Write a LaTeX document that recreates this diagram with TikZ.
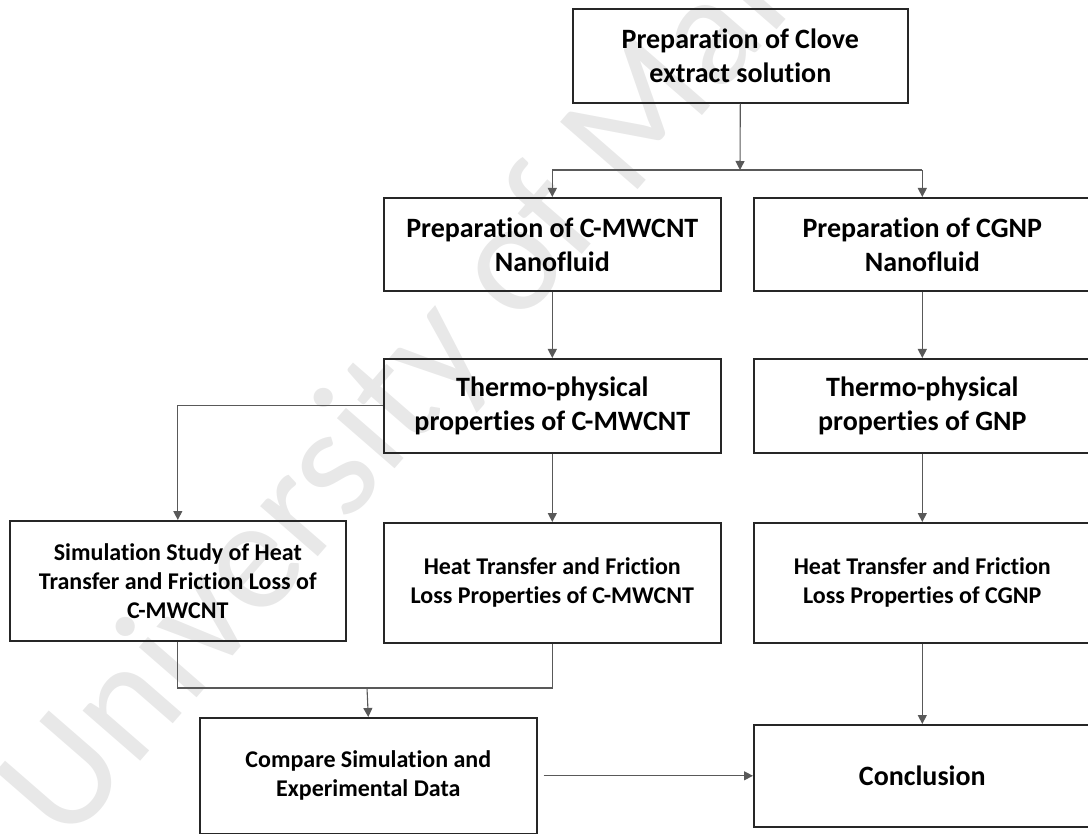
\documentclass[tikz,border=0pt]{standalone}
\usepackage{fontspec}
\setmainfont{Carlito}[Ligatures=NoCommon]
\usetikzlibrary{arrows.meta}
\begin{document}
\begin{tikzpicture}[x=1pt,y=-1pt,
  box/.style={draw=black!85, line width=1.6pt, anchor=north west, inner sep=0pt, align=center, minimum width=337pt, font=\bfseries\fontsize{28}{34}\selectfont},
  sbox/.style={box, font=\bfseries\fontsize{24}{29}\selectfont},
  conn/.style={draw=black!65, line width=1.1pt},
  arr/.style={conn, -{Triangle[length=9pt,width=9pt]}},
  wmark/.style={rotate=49, text=black!9, font=\fontsize{160}{160}\selectfont}
]
\useasboundingbox (0,0) rectangle (1088,834);
\node[wmark] (wm) at (470,318) {University of Malaya};

\node[box, minimum width=335pt, minimum height=94pt] (clove) at (572,8) {Preparation of Clove\\extract solution};
\node[box, minimum height=93pt] (prepM) at (383,197) {Preparation of C-MWCNT\\Nanofluid};
\node[box, minimum height=93pt] (prepG) at (753,197) {Preparation of CGNP\\Nanofluid};
\node[box, minimum height=94pt] (thermM) at (383,358) {Thermo-physical\\properties of C-MWCNT};
\node[box, minimum height=94pt] (thermG) at (753,358) {Thermo-physical\\properties of GNP};
\node[sbox, minimum width=336pt, minimum height=120pt] (sim) at (9,520) {Simulation Study of Heat\\Transfer and Friction Loss of\\C-MWCNT};
\node[sbox, minimum height=120pt] (heatM) at (383,522) {Heat Transfer and Friction\\Loss Properties of C-MWCNT};
\node[sbox, minimum height=120pt] (heatG) at (753,522) {Heat Transfer and Friction\\Loss Properties of CGNP};
\node[sbox, minimum height=116pt] (comp) at (199,717) {Compare Simulation and\\Experimental Data};
\node[box, minimum height=102pt] (concl) at (753,724) {Conclusion};

\coordinate (j1) at (740,170);
\coordinate (jl) at (prepM.north |- j1);
\coordinate (jr) at (prepG.north |- j1);
\draw[arr] (clove.south) -- (j1);
\draw[conn] (jl) -- (jr);
\draw[arr] (jl) -- (prepM.north);
\draw[arr] (jr) -- (prepG.north);
\draw[arr] (prepM.south) -- (thermM.north);
\draw[arr] (prepG.south) -- (thermG.north);
\draw[arr] (thermM.west) -| (sim.north);
\draw[arr] (thermM.south) -- (heatM.north);
\draw[arr] (thermG.south) -- (heatG.north);
\coordinate (bar) at (367,688);
\draw[conn] (sim.south) |- (bar) -| (heatM.south);
\draw[arr] (bar) -- (comp.north);
\draw[arr, shorten <=6pt] (comp.east) -- (concl.west);
\draw[arr] (heatG.south) -- (concl.north);
\end{tikzpicture}
\end{document}
